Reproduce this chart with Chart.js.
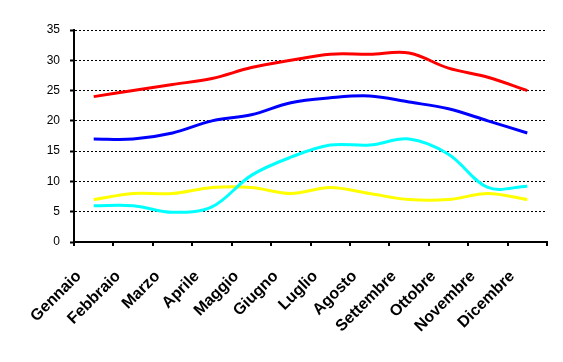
<!DOCTYPE html>
<html>
<head>
<meta charset="utf-8">
<script src="https://cdn.jsdelivr.net/npm/chart.js@4/dist/chart.umd.min.js"></script>
<style>
  html, body { margin: 0; padding: 0; background: #fff; }
  #wrap { width: 563px; height: 362px; }
</style>
</head>
<body>
<div id="wrap"><canvas id="myChart" width="563" height="362"></canvas></div>
<script>
const months = ['Gennaio', 'Febbraio', 'Marzo', 'Aprile', 'Maggio', 'Giugno',
  'Luglio', 'Agosto', 'Settembre', 'Ottobre', 'Novembre', 'Dicembre'];

const redValues = [24, 25, 26, 27, 28.8, 30, 31, 31, 31.2, 28.7, 27.2, 25];
const blueValues = [17, 17, 18, 20, 21, 23, 23.8, 24.1, 23.1, 22, 20, 18];
const cyanValues = [6, 6, 4.9, 5.8, 11, 14, 16, 16, 17, 14.5, 9, 9.2];
const yellowValues = [7, 8, 8, 9, 9, 8, 9, 8, 7, 7, 8, 7];

const yTicks = [0, 5, 10, 15, 20, 25, 30, 35];

function makeLine(data, color) {
  return {
    data: data,
    borderColor: color,
    backgroundColor: color,
    borderWidth: 3,
    pointRadius: 0,
    tension: 0.35,
    fill: false
  };
}

document.addEventListener("DOMContentLoaded", () => {
  const ctx = document.getElementById('myChart').getContext('2d');
  new Chart(ctx, {
    type: 'line',
    data: {
      labels: months,
      datasets: [
        makeLine(redValues, '#ff0000'),
        makeLine(blueValues, '#0000ff'),
        makeLine(cyanValues, '#00ffff'),
        makeLine(yellowValues, '#ffff00')
      ]
    },
    options: {
      responsive: false,
      animation: false,
      layout: { padding: { top: 30, right: 16, left: 0, bottom: 0 } },
      plugins: { legend: { display: false }, tooltip: { enabled: false } },
      scales: {
        x: {
          offset: true,
          grid: { offset: true, drawOnChartArea: false, drawTicks: true, tickLength: 4, color: '#000', lineWidth: 2 },
          border: { display: true, color: '#000', width: 2 },
          ticks: {
            color: '#000',
            maxRotation: 45,
            minRotation: 45,
            autoSkip: false,
            padding: 21,
            labelOffset: -15,
            font: { family: 'Liberation Sans, Arial', size: 16, weight: 'bold' }
          },
          afterFit: (scale) => { scale.height = 120; }
        },
        y: {
          min: 0,
          max: 35,
          afterBuildTicks: (scale) => { scale.ticks = yTicks.map((v) => ({ value: v })); },
          grid: { color: '#000', lineWidth: 1, tickLength: 4, tickBorderDash: [], tickWidth: 2 },
          border: { display: true, color: '#000', width: 2, dash: [2, 2] },
          ticks: {
            color: '#000',
            padding: 10,
            font: { family: 'Liberation Sans, Arial', size: 12 }
          },
          afterFit: (scale) => { scale.width = 74; }
        }
      }
    }
  });
});
</script>
</body>
</html>
